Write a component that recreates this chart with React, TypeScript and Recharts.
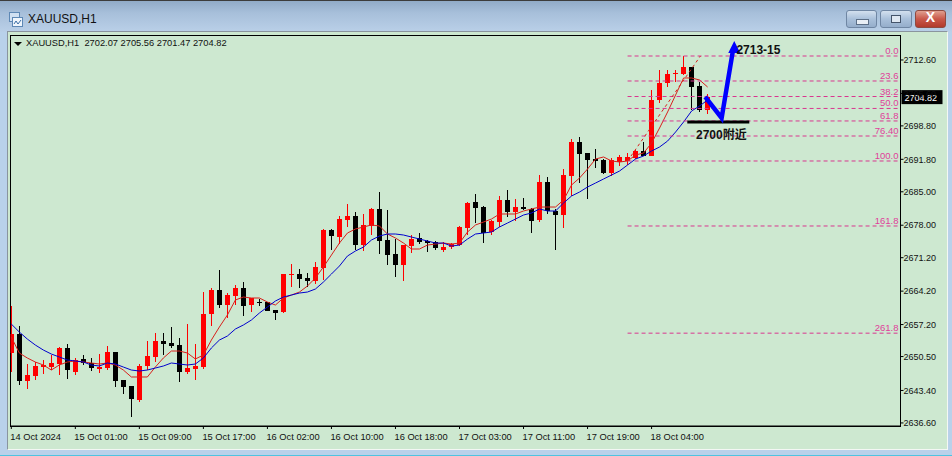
import React from "react";
import { ComposedChart, XAxis, YAxis, Bar, Line, ReferenceLine, ReferenceDot } from "recharts";

const opens = [2651.24,2655.22,2645.38,2646.43,2648.31,2648.31,2648.94,2652.29,2647.26,2649.99,2649.15,2647.89,2648.10,2651.45,2645.59,2644.33,2641.40,2648.52,2650.41,2653.75,2653.33,2652.92,2647.26,2647.89,2648.31,2659.41,2664.43,2661.29,2663.17,2664.85,2661.29,2661.92,2661.92,2660.25,2659.83,2667.57,2667.78,2666.95,2666.32,2669.04,2677.00,2675.53,2679.09,2679.93,2673.85,2677.84,2681.40,2674.90,2671.97,2669.67,2673.64,2675.32,2674.69,2674.48,2672.81,2673.43,2673.85,2677.42,2682.86,2681.81,2676.58,2678.67,2683.28,2680.77,2681.81,2681.40,2679.09,2687.05,2680.98,2680.14,2688.30,2695.42,2693.12,2691.87,2691.66,2688.93,2691.24,2691.45,2692.08,2693.54,2692.50,2704.22,2707.78,2709.67,2709.67,2711.13,2707.15,2702.07];
const highs = [2661.08,2656.90,2648.94,2649.36,2649.78,2650.82,2652.50,2653.12,2650.20,2650.82,2650.20,2651.03,2652.71,2651.45,2645.59,2644.33,2648.94,2653.75,2655.43,2655.43,2656.69,2654.38,2657.31,2653.12,2664.01,2664.85,2668.62,2663.80,2665.48,2666.11,2662.76,2662.55,2661.92,2660.25,2667.78,2669.88,2668.83,2667.99,2670.30,2677.21,2677.21,2679.93,2682.44,2680.77,2680.35,2681.60,2684.95,2681.19,2675.11,2673.85,2675.95,2676.37,2674.90,2674.69,2674.48,2674.27,2677.84,2682.86,2684.53,2681.97,2679.09,2684.12,2685.37,2683.49,2683.70,2681.60,2688.51,2688.09,2681.40,2689.77,2696.05,2696.47,2693.12,2693.96,2691.87,2692.08,2692.70,2693.12,2693.75,2695.42,2706.31,2710.50,2710.50,2710.50,2713.43,2711.13,2707.99,2705.56];
const lows = [2647.26,2644.54,2643.70,2645.59,2646.84,2647.68,2646.64,2645.80,2646.64,2648.73,2647.47,2647.05,2647.68,2644.12,2642.66,2637.90,2640.98,2647.68,2649.36,2650.82,2652.29,2645.17,2646.84,2645.59,2647.89,2656.90,2660.66,2658.57,2661.29,2658.99,2659.83,2661.08,2660.04,2658.15,2659.62,2665.06,2664.85,2665.06,2665.69,2666.53,2672.81,2674.06,2677.63,2672.81,2672.60,2675.95,2671.97,2669.67,2667.16,2666.32,2672.18,2674.06,2672.39,2672.81,2672.39,2673.02,2673.64,2675.95,2678.46,2674.27,2675.95,2677.63,2679.72,2678.88,2681.19,2676.37,2678.67,2680.35,2672.81,2677.42,2684.12,2686.84,2683.49,2689.98,2688.72,2688.30,2690.40,2690.61,2691.87,2692.50,2692.50,2703.59,2706.94,2707.99,2709.46,2702.13,2701.71,2701.47];
const closes = [2655.22,2645.38,2646.64,2648.52,2648.73,2649.15,2652.29,2647.68,2649.78,2649.15,2648.10,2648.31,2651.45,2645.38,2644.12,2641.61,2648.52,2650.62,2653.75,2653.12,2652.71,2647.26,2648.10,2648.52,2659.41,2664.43,2661.29,2663.38,2664.85,2661.08,2662.76,2661.71,2660.04,2659.62,2667.78,2667.78,2666.74,2666.32,2669.25,2677.00,2675.74,2679.30,2679.93,2673.85,2678.05,2681.40,2674.69,2671.76,2669.67,2673.85,2675.11,2674.48,2674.27,2673.22,2673.43,2674.06,2677.63,2682.65,2681.60,2676.37,2678.88,2683.28,2680.77,2681.81,2681.40,2678.88,2687.05,2680.98,2680.14,2688.51,2695.42,2692.91,2691.66,2691.45,2688.93,2691.66,2692.29,2692.29,2693.54,2692.50,2704.22,2707.78,2709.67,2709.88,2711.13,2706.94,2702.13,2704.82];
const fastMa = [2654.59,2651.24,2650.20,2649.36,2648.73,2647.68,2648.73,2649.36,2649.57,2649.36,2649.15,2648.94,2649.15,2648.73,2647.68,2646.22,2646.22,2646.22,2648.31,2650.20,2651.66,2651.66,2651.24,2649.99,2650.82,2653.96,2656.69,2659.20,2662.34,2662.97,2662.76,2662.76,2661.92,2661.29,2662.76,2663.38,2664.01,2665.27,2666.95,2669.25,2671.76,2674.27,2676.37,2677.21,2677.63,2678.05,2677.84,2676.16,2675.32,2674.27,2673.02,2673.02,2673.85,2674.06,2674.27,2674.06,2674.27,2676.58,2678.05,2678.67,2679.30,2680.35,2680.35,2680.35,2680.98,2681.40,2681.81,2681.81,2681.81,2683.28,2686.42,2687.89,2689.77,2691.87,2692.29,2691.45,2691.24,2691.45,2692.70,2693.12,2695.21,2698.36,2701.71,2705.27,2708.83,2708.83,2708.41,2706.94];
const slowMa = [2657.31,2655.64,2654.17,2652.92,2651.87,2651.03,2650.41,2649.78,2649.57,2649.36,2648.73,2648.52,2649.15,2648.94,2648.31,2647.68,2647.47,2647.68,2648.10,2648.52,2649.15,2648.94,2648.73,2648.94,2650.20,2652.29,2653.96,2654.80,2656.27,2657.11,2658.15,2659.62,2660.87,2662.13,2662.97,2663.38,2663.80,2664.01,2664.64,2666.11,2667.78,2669.46,2671.55,2672.60,2673.43,2674.90,2675.74,2676.16,2676.16,2675.95,2675.53,2675.11,2674.69,2674.27,2674.27,2673.64,2673.85,2675.11,2676.16,2676.37,2676.58,2677.63,2678.46,2679.30,2680.14,2680.56,2681.40,2680.98,2680.98,2682.65,2684.12,2684.95,2686.00,2686.84,2687.68,2688.51,2689.35,2690.61,2691.87,2692.50,2693.54,2694.38,2695.63,2697.52,2699.62,2701.92,2702.97,2704.22];

const timeTicks = [0, 8, 16, 24, 32, 40, 48, 56, 64, 72, 80];
const timeLabels = ["14 Oct 2024", "15 Oct 01:00", "15 Oct 09:00", "15 Oct 17:00", "16 Oct 02:00", "16 Oct 10:00", "16 Oct 18:00", "17 Oct 03:00", "17 Oct 11:00", "17 Oct 19:00", "18 Oct 04:00"];
const priceTicks = [2712.6, 2705.6, 2698.8, 2691.8, 2685.0, 2678.0, 2671.2, 2664.2, 2657.2, 2650.5, 2643.4, 2636.6];

const fibNames = ["0.0", "23.6", "38.2", "50.0", "61.8", "76.40", "100.0", "161.8", "261.8"];
const fibPrices = [2713.43, 2708.2, 2704.95, 2702.45, 2699.83, 2696.68, 2691.45, 2677.84, 2655.4];
const fibFromBar = 77;
const fibToBar = 111.1;

const arrowBars = [86.7, 88.75, 90.2];
const arrowPrices = [2704.85, 2700.45, 2714.9];
const supportBars = [84.46, 92.21];
const supportPrice = 2699.62;
const lastPrice = 2704.82;

const candles = opens.map((o, i) => ({
  bar: i,
  open: o,
  close: closes[i],
  range: [lows[i], highs[i]],
  fast: fastMa[i],
  slow: slowMa[i],
}));
const arrowData = arrowBars.map((b, i) => ({ bar: b, price: arrowPrices[i] }));

const UI_FONT = '"Liberation Sans", Arial, sans-serif';
const BG = "#cde8d0";
const FIB = "#d9368f";

function Candle(props: any) {
  const { x, y, width, height, payload } = props;
  const up = payload.close >= payload.open;
  const color = up ? "#ff0000" : "#000000";
  const top = Math.min(y, y + height);
  const h = Math.abs(height);
  const perUnit = h / (payload.range[1] - payload.range[0] || 1);
  const bodyHi = Math.max(payload.open, payload.close);
  const bodyLo = Math.min(payload.open, payload.close);
  const bodyY = Math.round(top + (payload.range[1] - bodyHi) * perUnit);
  const bodyH = Math.max(1, Math.round((bodyHi - bodyLo) * perUnit));
  const cx = Math.floor(x + width / 2);
  return (
    <g shapeRendering="crispEdges">
      <rect x={cx} y={Math.round(top)} width={1} height={Math.max(1, Math.round(h))} fill={color} />
      <rect x={cx - 2} y={bodyY} width={5} height={bodyH} fill={color} />
    </g>
  );
}

function ArrowHead(props: any) {
  const { cx, cy, index } = props;
  if (index !== arrowData.length - 1) return <g key={index} />;
  return <path key={index} d={`M${cx + 1} ${cy - 8} L${cx + 7} ${cy + 4} L${cx - 5} ${cy + 4} Z`} fill="#0000ff" />;
}

function TimeTick(props: any) {
  const { x, y, payload } = props;
  const i = timeTicks.indexOf(payload.value);
  return (
    <text x={x - 1} y={y + 9} fontSize={9.3} fontFamily={UI_FONT} fill="#111" textAnchor="start">
      {timeLabels[i]}
    </text>
  );
}

function PriceTag(props: any) {
  const { viewBox } = props;
  const right = viewBox.x + viewBox.width;
  const y = viewBox.y;
  return (
    <g>
      <rect x={right + 1} y={y - 7} width={41} height={14} fill="#000" />
      <text x={right + 4} y={y + 3.5} fontSize={9} fontFamily={UI_FONT} fill="#fff">
        {lastPrice.toFixed(2)}
      </text>
    </g>
  );
}

function WinButton({ left, w, red, children }: any) {
  return (
    <div
      style={{
        position: "absolute",
        left,
        top: 10,
        width: w,
        height: 18,
        borderRadius: 3,
        border: red ? "1px solid #8f4a40" : "1px solid #6f86a3",
        background: red
          ? "linear-gradient(#e0a090 0%, #c9584a 50%, #b23a2c 100%)"
          : "linear-gradient(#d3e0ee 0%, #a9c0da 50%, #95aecb 100%)",
        boxSizing: "border-box",
      }}
    >
      {children}
    </div>
  );
}

export default function App() {
  return (
    <div style={{ position: "fixed", left: 0, top: 0, width: 952, height: 456, overflow: "hidden", background: "#b9d1ea", fontFamily: UI_FONT }}>
      {/* window chrome */}
      <div style={{ position: "absolute", left: 0, top: 0, width: 952, height: 32, background: "linear-gradient(#8fa9c6 0%, #a7bfda 40%, #bad0e8 100%)" }} />
      <div style={{ position: "absolute", left: 0, top: 0, width: 952, height: 1, background: "#3c3c3c" }} />
      <div style={{ position: "absolute", left: 0, top: 455, width: 952, height: 1, background: "#4fc3e0" }} />
      <svg style={{ position: "absolute", left: 9, top: 12 }} width={14} height={15}>
        <rect x={0.5} y={0.5} width={10} height={9} fill="#cfe0f2" stroke="#5d88b5" />
        <rect x={3.5} y={5.5} width={10} height={9} fill="#eef5fc" stroke="#5d88b5" />
        <path d="M5 12 L7 9 L9 12 L12 8" stroke="#3a6ea5" fill="none" />
      </svg>
      <div style={{ position: "absolute", left: 28, top: 11, fontSize: 12, color: "#111", lineHeight: "16px" }}>XAUUSD,H1</div>
      <WinButton left={846} w={31}>
        <div style={{ position: "absolute", left: 9, top: 8, width: 11, height: 4, background: "#e8eef5", border: "1px solid #5c6f87" }} />
      </WinButton>
      <WinButton left={880} w={32}>
        <div style={{ position: "absolute", left: 10, top: 4, width: 8, height: 6, background: "#dfe8f2", border: "1px solid #44546a" }} />
      </WinButton>
      <WinButton left={915} w={31} red>
        <div style={{ position: "absolute", left: 0, top: -2, width: 29, textAlign: "center", fontSize: 14, fontWeight: 700, color: "#fff" }}>X</div>
      </WinButton>

      {/* chart pane */}
      <div style={{ position: "absolute", left: 7, top: 31, width: 941, height: 419, background: BG, borderLeft: "1px solid #8a949e", borderTop: "1px solid #8a949e", borderBottom: "1px solid #f4f7f4", borderRight: "1px solid #f4f7f4", boxSizing: "border-box" }} />
      <div style={{ position: "absolute", left: 10, top: 35, width: 891, height: 392, border: "1px solid #000", boxSizing: "border-box" }} />
      <div style={{ position: "absolute", left: 14, top: 42, width: 0, height: 0, borderLeft: "4px solid transparent", borderRight: "4px solid transparent", borderTop: "4px solid #000" }} />
      <div style={{ position: "absolute", left: 26, top: 38, fontSize: 9.3, lineHeight: "11px", color: "#111", whiteSpace: "pre" }}>XAUUSD,H1  2702.07 2705.56 2701.47 2704.82</div>

      <div style={{ position: "absolute", left: 0, top: 0 }}>
        <ComposedChart width={952} height={456} data={candles} margin={{ top: 36, left: 10.5, right: 0, bottom: 0 }}>
          <XAxis
            dataKey="bar"
            type="number"
            xAxisId={0}
            domain={[-0.1, 111.1]}
            allowDataOverflow
            ticks={timeTicks}
            interval={0}
            height={30}
            tickSize={3}
            tickLine={{ stroke: "#000" }}
            axisLine={{ stroke: "#000" }}
            tick={<TimeTick />}
          />
          <YAxis
            orientation="right"
            yAxisId={0}
            width={51.5}
            domain={[2635.96, 2717.62]}
            allowDataOverflow
            ticks={priceTicks}
            interval={0}
            tickSize={3}
            tickMargin={0}
            tickLine={{ stroke: "#000" }}
            axisLine={{ stroke: "#000" }}
            tick={{ fontSize: 9, fontFamily: UI_FONT, fill: "#111" }}
            tickFormatter={(v: number) => v.toFixed(2)}
          />
          <Bar dataKey="range" barSize={5} shape={<Candle />} isAnimationActive={false} />
          <Line dataKey="fast" stroke="#d8201c" strokeWidth={1} dot={false} isAnimationActive={false} />
          <Line dataKey="slow" stroke="#0000cd" strokeWidth={1} dot={false} isAnimationActive={false} />
          {fibPrices.map((p, i) => (
            <ReferenceLine
              key={fibNames[i]}
              segment={[{ x: fibFromBar, y: p }, { x: fibToBar, y: p }]}
              stroke={FIB}
              strokeDasharray="4 3"
              label={{ value: fibNames[i], position: "insideBottomRight", offset: 2, fontSize: 9.5, fill: "#e0409a", fontFamily: UI_FONT }}
            />
          ))}
          <ReferenceLine
            segment={[{ x: fibFromBar, y: fibPrices[6] }, { x: 86.1, y: fibPrices[0] }]}
            stroke="#d8201c"
            strokeDasharray="3 3"
          />
          <ReferenceLine
            segment={[{ x: supportBars[0], y: supportPrice }, { x: supportBars[1], y: supportPrice }]}
            stroke="#000"
            strokeWidth={3}
          />
          <Line
            data={arrowData}
            dataKey="price"
            stroke="#0000ff"
            strokeWidth={4.5}
            strokeLinejoin="miter"
            dot={<ArrowHead />}
            isAnimationActive={false}
          />
          <ReferenceDot
            x={90.6}
            y={2714.65}
            r={0}
            label={{ value: "2713-15", position: "right", offset: 0, fontSize: 12, fontWeight: 700, fill: "#111", fontFamily: UI_FONT }}
          />
          <ReferenceDot
            x={88.72}
            y={2697.0}
            r={0}
            label={{ value: "2700附近", position: "center", fontSize: 12, fontWeight: 700, fill: "#111", fontFamily: '"Liberation Sans", "Noto Sans CJK SC", sans-serif' }}
          />
          <ReferenceLine y={lastPrice} stroke="none" label={<PriceTag />} />
        </ComposedChart>
      </div>
    </div>
  );
}
